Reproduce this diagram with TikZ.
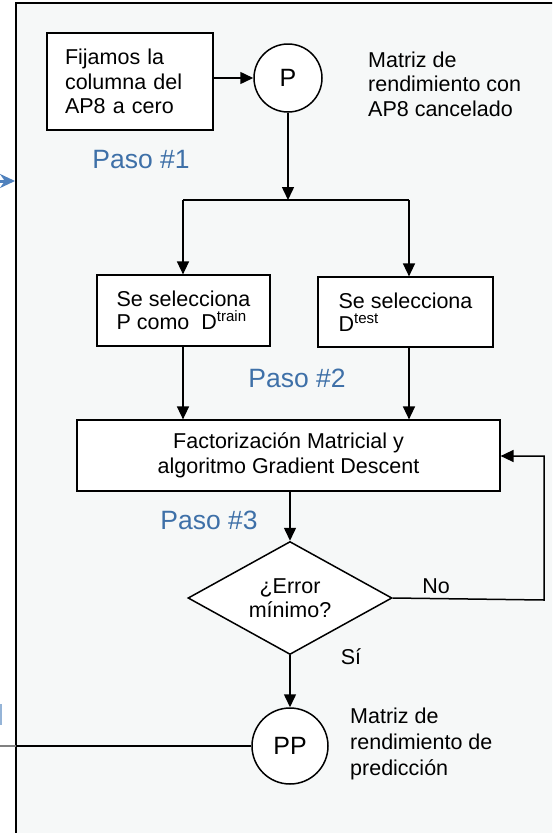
\documentclass[tikz,border=0pt]{standalone}
\usepackage{fontspec}
\setmainfont{Liberation Sans}
\usetikzlibrary{shapes.geometric,arrows.meta,calc}
\definecolor{framebg}{RGB}{246,248,248}
\definecolor{pasoblue}{RGB}{62,112,168}
\definecolor{arrblue}{RGB}{79,129,189}
\begin{document}
\begin{tikzpicture}[x=1pt,y=-1pt,
  txt/.style={font=\fontsize{21.5}{24.5}\selectfont},
  boxnode/.style={draw, line width=1.2pt, fill=white, rectangle, txt},
  circ/.style={draw, circle, fill=white, line width=1.5pt, inner sep=0pt, font=\fontsize{25}{28}\selectfont},
  arr/.style={line width=1.5pt, -{Triangle[length=13pt,width=12pt]}},
  ln/.style={line width=1.5pt},
  paso/.style={text=pasoblue, inner sep=0pt, font=\fontsize{26.5}{30}\selectfont},
  info/.style={txt, anchor=west, align=left, inner sep=0pt}]
\clip (0,0) rectangle (552,833);
\fill[white] (0,0) rectangle (552,833);
\draw[line width=2.8pt, fill=framebg] (16,3) rectangle (620,900);

\node[boxnode, minimum width=166pt, minimum height=97pt, text width=130pt, inner xsep=18pt, inner ysep=0pt, align=left] (b1) at (130,81.5) {Fijamos la\\columna del\\AP8 a cero};
\node[circ, minimum size=68pt] (P) at (288,78) {P};
\node[info] (i1) at (368,84) {Matriz de\\rendimiento con\\AP8 cancelado};
\node[paso] (p1) at (141,160) {Paso \#1};

\coordinate (jc) at (288,200);
\coordinate (jl) at (183,200);
\coordinate (jr) at (409,200);

\node[boxnode, minimum width=173pt, minimum height=71pt, inner sep=0pt, align=left, font=\fontsize{21.5}{22.5}\selectfont] (b2) at (183.5,310.5) {Se selecciona\\P como\ \ D\textsuperscript{train}};
\node[boxnode, minimum width=175pt, minimum height=70pt, inner sep=0pt, align=left, font=\fontsize{21.5}{22.5}\selectfont] (b3) at (405.5,312) {Se selecciona\\D\textsuperscript{test}};
\node[paso] (p2) at (297,378) {Paso \#2};

\node[boxnode, minimum width=423pt, minimum height=71pt, inner sep=0pt, align=center] (b4) at (288.5,455.5) {Factorización Matricial y\\algoritmo Gradient Descent};
\node[paso] (p3) at (209,520) {Paso \#3};

\node[draw, diamond, fill=white, line width=1.5pt, minimum width=204pt, minimum height=113pt, aspect=1.8, inner sep=0pt, align=center, txt] (d) at (290,598) {¿Error\\mínimo?};
\node[txt, inner sep=0pt] (no) at (436,586) {No};
\node[txt, inner sep=0pt] (si) at (351,657) {Sí};

\node[circ, minimum size=76pt] (PP) at (290,746) {PP};
\node[info, font=\fontsize{21.5}{26}\selectfont] (i2) at (350,744) {Matriz de\\rendimiento de\\predicción};

\draw[arr] (b1.east |- P.west) -- (P.west);
\draw[arr] (P.south) -- (jc);
\draw[ln] (jl) -- (jr);
\draw[arr] (jl) -- (jl |- b2.north);
\draw[arr] (jr) -- (jr |- b3.north);
\draw[arr] (jl |- b2.south) -- (jl |- b4.north);
\draw[arr] (jr |- b3.south) -- (jr |- b4.north);
\draw[arr] (d.north |- b4.south) -- (d.north);
\coordinate (rc) at (544,600);
\coordinate (rt) at (544,456);
\draw[arr] (d.east) -- (rc) -- (rt) -- (b4.east |- rt);
\draw[arr] (d.south) -- (PP.north);
\coordinate (ex) at (16,746);
\coordinate (ex2) at (0,746);
\draw[ln] (PP.west) -- (ex);
\draw[ln, gray] (ex) -- (ex2);
\coordinate (ba0) at (-20,181);
\coordinate (ba1) at (15,181);
\draw[arrblue, line width=3pt, -{Stealth[length=15pt,width=14pt]}] (ba0) -- (ba1);
\fill[arrblue!60] (0,704) rectangle (2,725);
\end{tikzpicture}
\end{document}
